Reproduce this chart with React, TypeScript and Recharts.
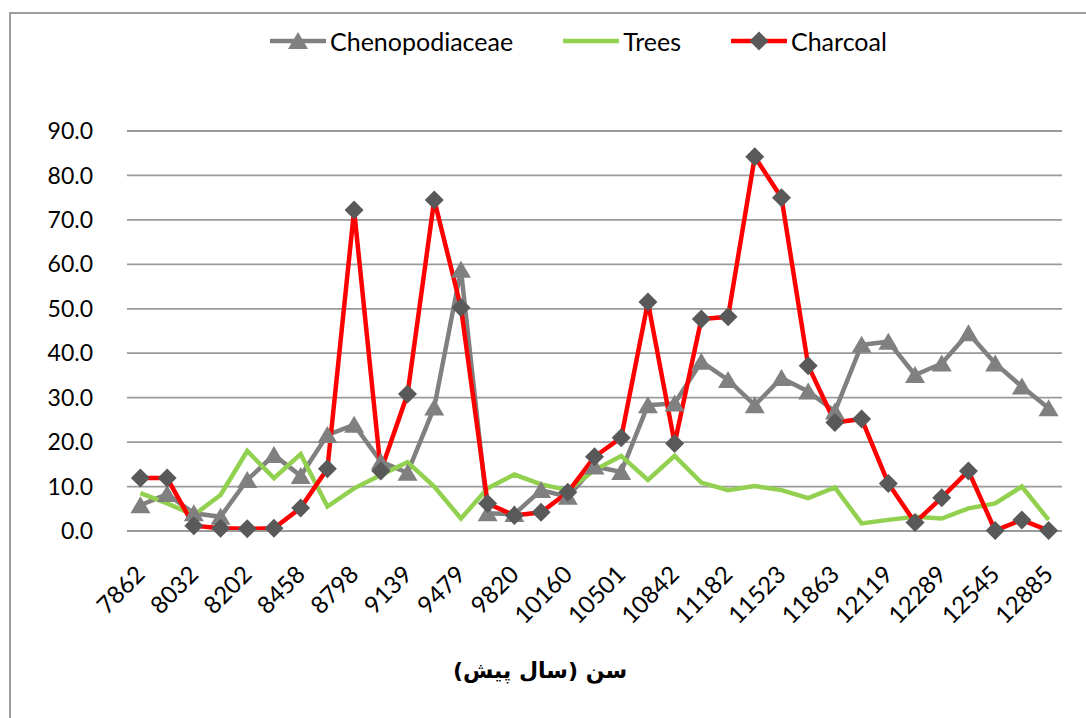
import React from 'react';
import { LineChart, Line, XAxis, YAxis, CartesianGrid, Legend } from 'recharts';

const categories: string[] = [
  '7862', '7947', '8032', '8117', '8202', '8330', '8458', '8628', '8798', '8969',
  '9139', '9309', '9479', '9650', '9820', '9990', '10160', '10331', '10501', '10672',
  '10842', '11012', '11182', '11353', '11523', '11693', '11863', '11991', '12119', '12204',
  '12289', '12417', '12545', '12715', '12885',
];

const chenopodiaceae: number[] = [
  5.8, 8.3, 4.0, 3.2, 11.5, 17.1, 12.4, 21.6, 23.9, 15.6,
  13.1, 27.8, 58.8, 4.0, 3.8, 9.2, 7.7, 14.5, 13.3, 28.3,
  28.7, 38.1, 34.0, 28.3, 34.4, 31.4, 26.9, 41.9, 42.6, 35.1,
  37.7, 44.5, 37.7, 32.5, 27.6,
];

const trees: number[] = [
  8.5, 6.2, 3.6, 8.1, 18.0, 11.9, 17.3, 5.5, 9.6, 12.6,
  15.5, 10.0, 2.8, 9.6, 12.7, 10.5, 9.2, 13.7, 16.9, 11.5,
  16.9, 10.9, 9.2, 10.1, 9.2, 7.4, 9.8, 1.7, 2.5, 3.2,
  2.8, 5.1, 6.2, 10.0, 2.5,
];

const charcoal: number[] = [
  11.9, 11.9, 1.2, 0.6, 0.5, 0.6, 5.2, 14.0, 72.2, 13.5,
  30.8, 74.5, 50.3, 6.2, 3.5, 4.2, 8.7, 16.7, 21.0, 51.5,
  19.7, 47.7, 48.2, 84.2, 75.0, 37.2, 24.4, 25.2, 10.7, 1.9,
  7.5, 13.5, 0.1, 2.5, 0.1,
];

const yTicks: number[] = [0, 10, 20, 30, 40, 50, 60, 70, 80, 90];
const seriesNames = ['Chenopodiaceae', 'Trees', 'Charcoal'];
const xTitle = 'سن (سال پیش)';

const data = categories.map((c, i) => ({
  age: c,
  chenopodiaceae: chenopodiaceae[i],
  trees: trees[i],
  charcoal: charcoal[i],
}));

const GRAY = '#808080';
const GREEN = '#92d050';
const RED = '#ff0000';
const DIAMOND = '#595959';
const FONT = 'Lato, "Open Sans", sans-serif';

const Triangle = (props: any) => {
  const { cx, cy } = props;
  if (cx == null || cy == null) return <g key={props.index} />;
  return (
    <polygon
      key={props.index}
      points={`${cx},${cy - 9} ${cx + 10},${cy + 8} ${cx - 10},${cy + 8}`}
      fill={GRAY}
    />
  );
};

const Diamond = (props: any) => {
  const { cx, cy } = props;
  if (cx == null || cy == null) return <g key={props.index} />;
  const r = 9.5;
  return (
    <polygon
      key={props.index}
      points={`${cx},${cy - r} ${cx + r},${cy} ${cx},${cy + r} ${cx - r},${cy}`}
      fill={DIAMOND}
    />
  );
};

const XTick = (props: any) => {
  const { x, y, payload } = props;
  return (
    <text
      x={x + 6}
      y={y + 37}
      transform={`rotate(-45 ${x + 6} ${y + 37})`}
      textAnchor="end"
      fontFamily={FONT}
      fontSize={24}
      fill="#000"
    >
      {payload.value}
    </text>
  );
};

const LegendContent = () => {
  const items = [
    { name: seriesNames[0], color: GRAY, marker: 'tri' },
    { name: seriesNames[1], color: GREEN, marker: 'none' },
    { name: seriesNames[2], color: RED, marker: 'dia' },
  ];
  return (
    <div style={{ display: 'flex', alignItems: 'center', paddingLeft: 270, fontFamily: FONT, fontSize: 25, color: '#000' }}>
      {items.map((it, i) => (
        <div key={it.name} style={{ display: 'flex', alignItems: 'center', marginRight: i < 2 ? 50 : 0 }}>
          <svg width={56} height={22} style={{ display: 'block' }}>
            <line x1={1} y1={11} x2={55} y2={11} stroke={it.color} strokeWidth={4.5} strokeLinecap="round" />
            {it.marker === 'tri' && <polygon points="28,2 38,19 18,19" fill={GRAY} />}
            {it.marker === 'dia' && <polygon points="28,1.5 37.5,11 28,20.5 18.5,11" fill={DIAMOND} />}
          </svg>
          <span style={{ marginLeft: 4, lineHeight: '28px' }}>{it.name}</span>
        </div>
      ))}
    </div>
  );
};

export default function App() {
  return (
    <div style={{ position: 'absolute', left: 0, top: 0, width: 1086, height: 718, overflow: 'hidden', background: '#fff' }}>
      <div style={{ position: 'absolute', left: 9, top: 12, width: 1100, height: 740, border: '2px solid #9d9d9d', boxSizing: 'border-box' }} />
      <div style={{ position: 'absolute', left: 0, top: 0 }}>
        <LineChart width={1086} height={718} data={data} margin={{ top: 131, right: 24, left: 0, bottom: 107 }}>
          <CartesianGrid vertical={false} stroke="#9a9a9a" strokeWidth={1.8} />
          <XAxis
            dataKey="age"
            interval={1}
            height={80}
            padding={{ left: 13.4, right: 13.4 }}
            tick={<XTick />}
            tickLine={false}
            axisLine={{ stroke: '#9a9a9a', strokeWidth: 1.8 }}
          />
          <YAxis
            width={127}
            domain={[0, 90]}
            ticks={yTicks}
            axisLine={false}
            tickLine={false}
            tickSize={0}
            tickMargin={34}
            tickFormatter={(v: number) => v.toFixed(1)}
            tick={{ fontFamily: FONT, fontSize: 23, fill: '#000' }}
          />
          <Legend
            layout="horizontal"
            verticalAlign="middle"
            align="center"
            content={<LegendContent />}
            wrapperStyle={{ top: 27, left: 0, width: 1086, height: 28 }}
          />
          <Line
            type="linear"
            dataKey="chenopodiaceae"
            name={seriesNames[0]}
            stroke={GRAY}
            strokeWidth={4.5}
            dot={(p: any) => <Triangle key={`t${p.index}`} {...p} />}
            activeDot={false}
            isAnimationActive={false}
          />
          <Line
            type="linear"
            dataKey="trees"
            name={seriesNames[1]}
            stroke={GREEN}
            strokeWidth={4.5}
            dot={false}
            activeDot={false}
            isAnimationActive={false}
          />
          <Line
            type="linear"
            dataKey="charcoal"
            name={seriesNames[2]}
            stroke={RED}
            strokeWidth={4.5}
            dot={(p: any) => <Diamond key={`d${p.index}`} {...p} />}
            activeDot={false}
            isAnimationActive={false}
          />
        </LineChart>
      </div>
      <div
        dir="rtl"
        style={{ position: 'absolute', left: 390, top: 655, width: 300, textAlign: 'center', fontFamily: '"DejaVu Sans", sans-serif', fontWeight: 'bold', fontSize: 22, lineHeight: '32px', color: '#000' }}
      >
        {xTitle}
      </div>
    </div>
  );
}
